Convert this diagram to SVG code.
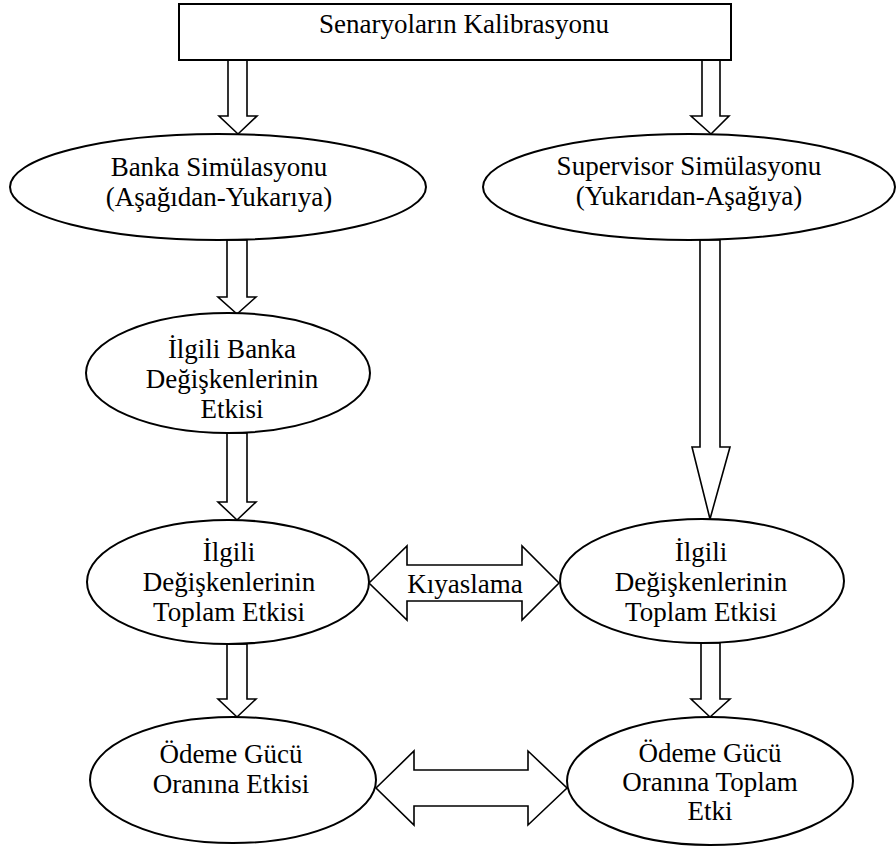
<svg xmlns="http://www.w3.org/2000/svg" width="896" height="850" viewBox="0 0 896 850">
  <style>
    .node { fill: #ffffff; stroke: #000000; stroke-width: 2; }
    .arrow { fill: #ffffff; stroke: #000000; stroke-width: 1.6; stroke-linejoin: miter; }
    .label { font-family: "Liberation Serif", "Times New Roman", serif; font-size: 27px; fill: #000000; text-anchor: middle; }
  </style>
  <rect x="0" y="0" width="896" height="850" fill="#ffffff"/>

  <!-- block arrows -->
  <g id="connectors">
    <!-- calibration box to bank simulation -->
    <polygon class="arrow" points="228,60 247,60 247,116 257,116 238,134 219,116 228,116"/>
    <!-- calibration box to supervisor simulation -->
    <polygon class="arrow" points="702,60 720,60 720,116 729,116 711,134 691,116 702,116"/>
    <!-- bank simulation to bank variables -->
    <polygon class="arrow" points="227,240 247,240 247,297 256,297 237,314 218,297 227,297"/>
    <!-- bank variables to left total effect -->
    <polygon class="arrow" points="227,433 247,433 247,502 256,502 237,520 218,502 227,502"/>
    <!-- supervisor simulation to right total effect (long arrow) -->
    <polygon class="arrow" points="700,240 720,240 720,447 730,447 710,519 692,447 700,447"/>
    <!-- left total effect to left solvency -->
    <polygon class="arrow" points="227,644 247,644 247,699 256,699 237,717 218,699 227,699"/>
    <!-- right total effect to right solvency -->
    <polygon class="arrow" points="701,643 720,643 720,699 730,699 710,717 691,699 701,699"/>
    <!-- comparison double arrow -->
    <polygon class="arrow" points="369,583 407,546 407,565 522,565 522,546 559,583 522,620 522,601 407,601 407,620"/>
    <!-- bottom double arrow -->
    <polygon class="arrow" points="376,788 414,751 414,770 528,770 528,751 567,788 528,825 528,806 414,806 414,825"/>
  </g>

  <g id="calibration">
    <rect class="node" x="179" y="4" width="552" height="56"/>
    <text class="label" x="464" y="33">Senaryoların Kalibrasyonu</text>
  </g>

  <g id="bank-simulation">
    <ellipse class="node" cx="218" cy="187" rx="208" ry="53"/>
    <text class="label" x="219" y="176">Banka Simülasyonu</text>
    <text class="label" x="219" y="206">(Aşağıdan-Yukarıya)</text>
  </g>

  <g id="supervisor-simulation">
    <ellipse class="node" cx="689" cy="187" rx="206" ry="53"/>
    <text class="label" x="689" y="175">Supervisor Simülasyonu</text>
    <text class="label" x="689" y="205">(Yukarıdan-Aşağıya)</text>
  </g>

  <g id="bank-variables">
    <ellipse class="node" cx="228" cy="373" rx="142" ry="60"/>
    <text class="label" x="232" y="358">İlgili Banka</text>
    <text class="label" x="232" y="388">Değişkenlerinin</text>
    <text class="label" x="232" y="418">Etkisi</text>
  </g>

  <g id="bank-total-effect">
    <ellipse class="node" cx="228" cy="582" rx="141" ry="62"/>
    <text class="label" x="229" y="561">İlgili</text>
    <text class="label" x="229" y="591">Değişkenlerinin</text>
    <text class="label" x="229" y="621">Toplam Etkisi</text>
  </g>

  <g id="comparison-label">
    <text class="label" x="465" y="593">Kıyaslama</text>
  </g>

  <g id="supervisor-total-effect">
    <ellipse class="node" cx="702" cy="581" rx="142" ry="62"/>
    <text class="label" x="701" y="561">İlgili</text>
    <text class="label" x="701" y="591">Değişkenlerinin</text>
    <text class="label" x="701" y="621">Toplam Etkisi</text>
  </g>

  <g id="bank-solvency">
    <ellipse class="node" cx="233" cy="780" rx="143" ry="63"/>
    <text class="label" x="231" y="763">Ödeme Gücü</text>
    <text class="label" x="231" y="793">Oranına Etkisi</text>
  </g>

  <g id="supervisor-solvency">
    <ellipse class="node" cx="710" cy="781" rx="143" ry="64"/>
    <text class="label" x="710" y="762">Ödeme Gücü</text>
    <text class="label" x="710" y="791">Oranına Toplam</text>
    <text class="label" x="710" y="820">Etki</text>
  </g>
</svg>
